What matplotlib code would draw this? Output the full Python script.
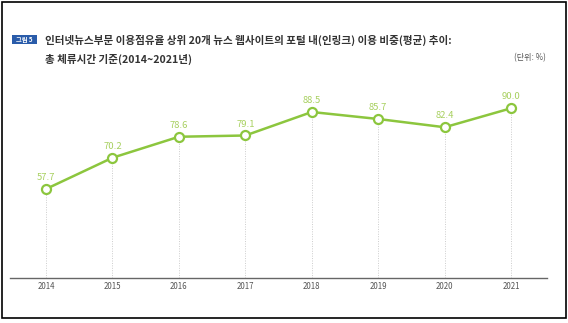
import matplotlib.pyplot as plt
from matplotlib.patches import Rectangle

plt.rcParams['font.family'] = ['Noto Sans CJK KR', 'DejaVu Sans']

years = [2014, 2015, 2016, 2017, 2018, 2019, 2020, 2021]
share = [57.7, 70.2, 78.6, 79.1, 88.5, 85.7, 82.4, 90.0]
title1 = '인터넷뉴스부문 이용점유율 상위 20개 뉴스 웹사이트의 포털 내(인링크) 이용 비중(평균) 추이:'
title2 = '총 체류시간 기준(2014~2021년)'
unit = '(단위: %)'

green = '#8cc63e'
label_green = '#a8d060'

fig = plt.figure(figsize=(5.68, 3.23), dpi=100)
W, H = 568, 323

# outer frame
fig.patches.append(Rectangle((2 / W, 1 - 318 / H), 564 / W, 316 / H, transform=fig.transFigure,
                             fill=False, edgecolor='black', linewidth=1.2))

# title badge + title
fig.patches.append(Rectangle((12 / W, 1 - 44 / H), 25 / W, 9 / H, transform=fig.transFigure,
                             facecolor='#2a5caa', edgecolor='none'))
fig.text(24.5 / W, 1 - 39.5 / H, '그림 5', color='white', fontsize=4.5, ha='center', va='center',
         fontweight='bold')
fig.text(45 / W, 1 - 40 / H, title1, fontsize=7.6, fontweight='bold', color='#333333', va='center')
fig.text(45 / W, 1 - 59 / H, title2, fontsize=7.6, fontweight='bold', color='#333333', va='center')
fig.text(546 / W, 1 - 58 / H, unit, fontsize=5.8, color='#555555', ha='right', va='center')

ax = fig.add_axes([10 / W, 1 - 278 / H, 537 / W, 198 / H])
ax.set_xlim(2013.458, 2021.54)
ax.set_ylim(22.1, 101.3)

ax.vlines(years, 22.1, share, colors='#cccccc', linestyles=(0, (1, 1.5)), linewidth=0.7, zorder=1)
ax.plot(years, share, color=green, linewidth=1.8, marker='o', markersize=6.5,
        markerfacecolor='white', markeredgecolor=green, markeredgewidth=1.6, zorder=3)
for x, v in zip(years, share):
    ax.annotate(f'{v:.1f}', (x, v), xytext=(0, 5), textcoords='offset points',
                ha='center', va='bottom', fontsize=6.8, color=label_green)

for s in ['top', 'right', 'left']:
    ax.spines[s].set_visible(False)
ax.spines['bottom'].set_color('#666666')
ax.spines['bottom'].set_linewidth(1.0)
ax.set_yticks([])
ax.set_xticks(years)
ax.set_xticklabels([str(y) for y in years], fontsize=5.7, color='#555555')
ax.tick_params(axis='x', length=0, pad=3)
ax.patch.set_alpha(0)

fig.savefig('out.png', dpi=100)
